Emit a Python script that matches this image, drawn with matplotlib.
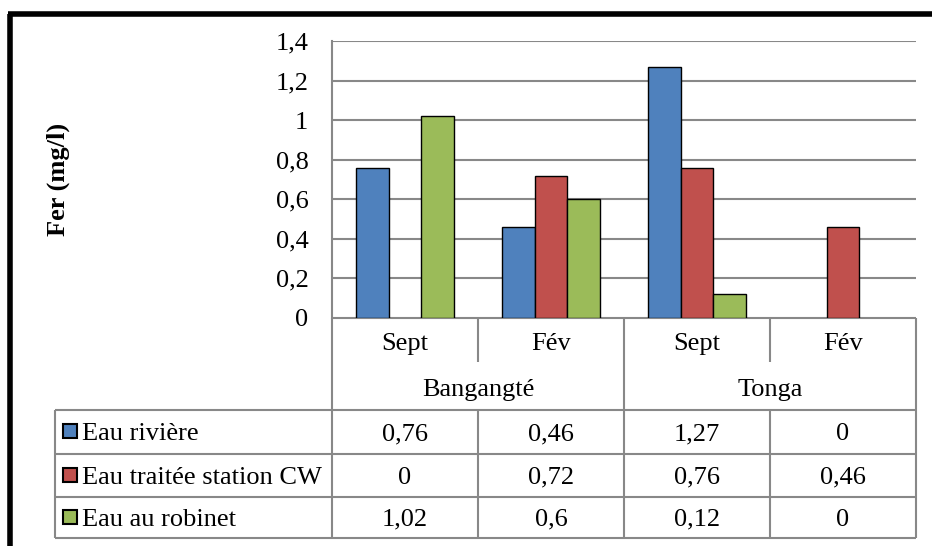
import matplotlib.pyplot as plt
from matplotlib.patches import Rectangle
from matplotlib.ticker import FuncFormatter

# data
groups = ['Bangangté', 'Tonga']
months = ['Sept', 'Fév', 'Sept', 'Fév']
series_names = ['Eau rivière', 'Eau traitée station CW', 'Eau au robinet']
eau_riviere = [0.76, 0.46, 1.27, 0]
eau_traitee = [0, 0.72, 0.76, 0.46]
eau_robinet = [1.02, 0.6, 0.12, 0]
colors = ['#4F81BD', '#C0504D', '#9BBB59']

plt.rcParams['font.family'] = ['Liberation Serif', 'DejaVu Serif']

W, H = 932, 546
fig = plt.figure(figsize=(W / 100, H / 100), dpi=100)

def fx(px):
    return px / W

def fy(py):
    return 1 - py / H

# pixel layout
x_left, x_right = 332, 916
y_top, y_axis = 41, 318
y_sep, y_grp = 362, 410
row_lines = [410, 454, 497, 538]
leg_left = 55
grid_color = '#888888'
fs = 19

ax = fig.add_axes([fx(x_left), fy(y_axis), fx(x_right - x_left), (y_axis - y_top) / H])
n = len(months)
series = [eau_riviere, eau_traitee, eau_robinet]
bw = 1 / 4.5
for i, vals in enumerate(series):
    xs = [k + (i - 1) * bw for k in range(n)]
    lws = [1.0 if v > 0 else 0 for v in vals]
    ax.bar(xs, vals, width=bw, color=colors[i], edgecolor='black', linewidth=lws, zorder=3)

ax.set_xlim(-0.5, n - 0.5)
ax.set_ylim(0, 1.4)
ax.set_yticks([0, 0.2, 0.4, 0.6, 0.8, 1.0, 1.2, 1.4])
ax.yaxis.set_major_formatter(FuncFormatter(lambda v, p: ('%g' % round(v, 1)).replace('.', ',')))
ax.tick_params(axis='y', length=0, pad=17, labelsize=fs)
ax.set_xticks([])
ax.grid(axis='y', color=grid_color, linewidth=1.5, zorder=0)
for s in ['top', 'right', 'bottom']:
    ax.spines[s].set_visible(False)
ax.spines['left'].set_color(grid_color)
ax.spines['left'].set_linewidth(1.5)

fig.text(fx(58), fy(179), 'Fer (mg/l)', rotation=90, ha='center', va='center',
         fontsize=fs, fontweight='bold')

# data table drawn in pixel space
ov = fig.add_axes([0, 0, 1, 1], zorder=-1)
ov.set_xlim(0, W)
ov.set_ylim(H, 0)
ov.axis('off')

col_w = (x_right - x_left) / n
col_edges = [x_left + k * col_w for k in range(n + 1)]
lw = 1.5

def hline(y, x0, x1):
    ov.plot([x0, x1], [y, y], color=grid_color, linewidth=lw, solid_capstyle='butt')

def vline(x, y0, y1):
    ov.plot([x, x], [y0, y1], color=grid_color, linewidth=lw, solid_capstyle='butt')

hline(y_axis, x_left, x_right)
for y in row_lines:
    hline(y, leg_left, x_right)
vline(x_left, y_axis, row_lines[-1])
vline(x_right, y_axis, row_lines[-1])
vline(leg_left, row_lines[0], row_lines[-1])
for k in range(1, n):
    if k == n // 2:
        vline(col_edges[k], y_axis, row_lines[-1])
    else:
        vline(col_edges[k], y_axis, y_sep)
        vline(col_edges[k], row_lines[0], row_lines[-1])

for k, m in enumerate(months):
    ov.text((col_edges[k] + col_edges[k + 1]) / 2, (y_axis + y_sep) / 2 + 4, m,
            ha='center', va='center', fontsize=fs)
for g, name in enumerate(groups):
    ov.text((col_edges[2 * g] + col_edges[2 * g + 2]) / 2, (y_sep + y_grp) / 2 + 4, name,
            ha='center', va='center', fontsize=fs)

for i, vals in enumerate(series):
    yc = (row_lines[i] + row_lines[i + 1]) / 2
    ov.add_patch(Rectangle((leg_left + 8, yc - 8), 14, 14, facecolor=colors[i],
                           edgecolor='black', linewidth=1.5))
    ov.text(leg_left + 27, yc + 2, series_names[i], ha='left', va='center', fontsize=fs)
    for k, v in enumerate(vals):
        ov.text((col_edges[k] + col_edges[k + 1]) / 2, yc + 2, ('%g' % v).replace('.', ','),
                ha='center', va='center', fontsize=fs)

# outer frame (only left and top visible in the crop)
ov.plot([10, 10], [H, 13.5], color='black', linewidth=4, solid_capstyle='butt')
ov.plot([8, W], [13.5, 13.5], color='black', linewidth=4, solid_capstyle='butt')

fig.savefig('out.png', dpi=100)
